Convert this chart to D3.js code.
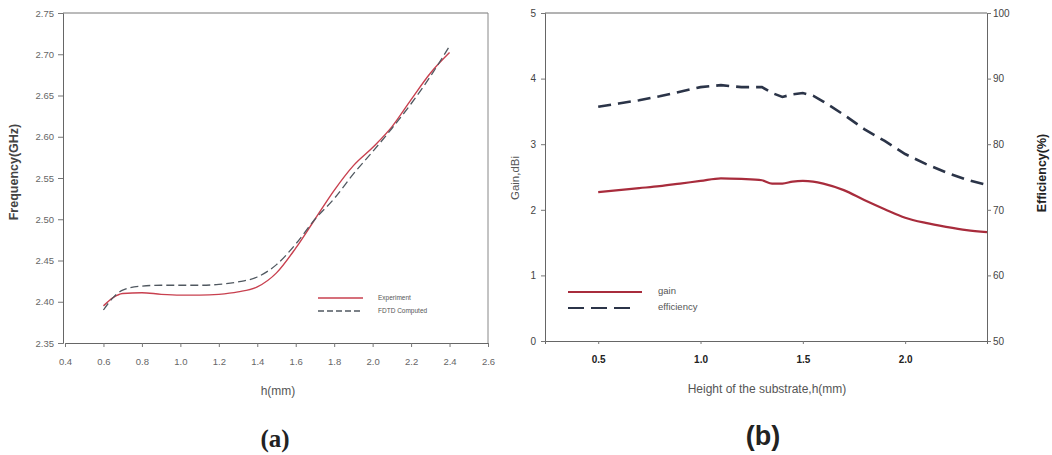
<!DOCTYPE html>
<meta charset="utf-8">
<title>resonant frequency, gain and efficiency vs substrate height</title>
<style>
body { margin: 0; background: #fff; }
text { font-family: Arial, "Liberation Sans", sans-serif; }
</style>
<body>
<script src="https://d3js.org/d3.v7.min.js"></script>
<script>
var width = 1052, height = 455;

// (a) resonant frequency vs substrate height
var hA = [0.6, 0.65, 0.7, 0.8, 0.9, 1.0, 1.1, 1.2, 1.3, 1.4, 1.5, 1.6, 1.7, 1.8, 1.9, 2.0, 2.1, 2.2, 2.3, 2.4];
var freqExperiment = [2.395, 2.405, 2.410, 2.411, 2.409, 2.408, 2.408, 2.409, 2.412, 2.418, 2.435, 2.465, 2.500, 2.535, 2.565, 2.587, 2.612, 2.645, 2.677, 2.702];
var freqFdtd = [2.390, 2.405, 2.414, 2.419, 2.420, 2.420, 2.420, 2.421, 2.424, 2.430, 2.445, 2.470, 2.500, 2.525, 2.555, 2.582, 2.610, 2.640, 2.673, 2.710];
var xTicksA = [0.4, 0.6, 0.8, 1.0, 1.2, 1.4, 1.6, 1.8, 2.0, 2.2, 2.4, 2.6];
var yTicksA = [2.35, 2.40, 2.45, 2.50, 2.55, 2.60, 2.65, 2.70, 2.75];
var legendA = ["Experiment", "FDTD Computed"];

// (b) gain and efficiency vs substrate height
var hB = [0.5, 0.6, 0.7, 0.8, 0.9, 1.0, 1.1, 1.2, 1.3, 1.35, 1.4, 1.45, 1.5, 1.55, 1.6, 1.7, 1.8, 1.9, 2.0, 2.1, 2.2, 2.3, 2.4];
var gain = [2.27, 2.30, 2.33, 2.36, 2.40, 2.44, 2.48, 2.47, 2.45, 2.40, 2.40, 2.43, 2.44, 2.43, 2.40, 2.30, 2.15, 2.01, 1.88, 1.80, 1.74, 1.69, 1.66];
var efficiency = [85.7, 86.2, 86.7, 87.3, 88.0, 88.7, 89.0, 88.7, 88.7, 87.8, 87.2, 87.6, 87.8, 87.4, 86.5, 84.5, 82.3, 80.5, 78.5, 77.0, 75.7, 74.6, 73.8];
var xTicksB = [0.5, 1.0, 1.5, 2.0];
var gainTicks = [0, 1, 2, 3, 4, 5];
var effTicks = [50, 60, 70, 80, 90, 100];
var legendB = ["gain", "efficiency"];

var svg = d3.select("body").append("svg")
    .attr("width", width)
    .attr("height", height);

// ---------- chart (a) ----------
var xA = d3.scaleLinear().domain([0.4, 2.6]).range([65, 488]);
var yA = d3.scaleLinear().domain([2.35, 2.75]).range([343, 13]);

var gA = svg.append("g");

gA.append("g")
    .attr("transform", "translate(63,0)")
    .call(d3.axisLeft(yA).tickValues(yTicksA).tickSize(5).tickPadding(4).tickFormat(d3.format(".2f")));

gA.append("g")
    .attr("transform", "translate(0,343)")
    .call(d3.axisBottom(xA).tickValues(xTicksA).tickSize(4).tickPadding(11).tickFormat(d3.format(".1f")));

gA.selectAll(".domain").attr("stroke", "#666");
gA.selectAll(".tick line").attr("stroke", "#777");
gA.selectAll(".tick text").style("font-size", "9.5px").attr("fill", "#666");

// top and right border
gA.append("line").attr("x1", 63).attr("x2", 488).attr("y1", 13).attr("y2", 13).attr("stroke", "#777");
gA.append("line").attr("x1", 488).attr("x2", 488).attr("y1", 13).attr("y2", 343).attr("stroke", "#888");

var lineA = d3.line()
    .x(function(d) { return xA(d[0]); })
    .y(function(d) { return yA(d[1]); })
    .curve(d3.curveMonotoneX);

gA.append("path")
    .datum(d3.zip(hA, freqExperiment))
    .attr("d", lineA)
    .attr("fill", "none")
    .attr("stroke", "#c8404f")
    .attr("stroke-width", 1.4);

gA.append("path")
    .datum(d3.zip(hA, freqFdtd))
    .attr("d", lineA)
    .attr("fill", "none")
    .attr("stroke", "#505860")
    .attr("stroke-width", 1.3)
    .attr("stroke-dasharray", "8,4");

// legend (a)
var legA = gA.append("g");
legA.selectAll("line")
    .data(legendA)
  .enter().append("line")
    .attr("x1", 318).attr("x2", 363)
    .attr("y1", function(d, i) { return 298 + i * 13; })
    .attr("y2", function(d, i) { return 298 + i * 13; })
    .attr("stroke", function(d, i) { return i ? "#505860" : "#c8404f"; })
    .attr("stroke-width", 1.3)
    .attr("stroke-dasharray", function(d, i) { return i ? "6,3" : null; });
legA.selectAll("text")
    .data(legendA)
  .enter().append("text")
    .attr("x", 378)
    .attr("y", function(d, i) { return 300 + i * 13; })
    .style("font-size", "6.5px")
    .attr("fill", "#555")
    .text(function(d) { return d; });

gA.append("text")
    .attr("transform", "translate(18,172) rotate(-90)")
    .attr("text-anchor", "middle")
    .style("font-size", "12.5px")
    .style("font-weight", "bold")
    .attr("fill", "#444")
    .text("Frequency(GHz)");

gA.append("text")
    .attr("x", 278).attr("y", 395)
    .attr("text-anchor", "middle")
    .style("font-size", "12px")
    .attr("fill", "#555")
    .text("h(mm)");

gA.append("text")
    .attr("x", 275).attr("y", 447)
    .attr("text-anchor", "middle")
    .style("font-family", "'Liberation Serif', 'DejaVu Serif', serif")
    .style("font-size", "25px")
    .style("font-weight", "bold")
    .attr("fill", "#222")
    .text("(a)");

// ---------- chart (b) ----------
var xB = d3.scaleLinear().domain([0.24, 2.40]).range([545, 987]);
var yGain = d3.scaleLinear().domain([0, 5]).range([341, 13]);
var yEff = d3.scaleLinear().domain([50, 100]).range([341, 13]);

var gB = svg.append("g");

gB.append("g")
    .attr("transform", "translate(545,0)")
    .call(d3.axisLeft(yGain).tickValues(gainTicks).tickSize(4).tickPadding(5).tickFormat(d3.format("d")));

gB.append("g")
    .attr("transform", "translate(987,0)")
    .call(d3.axisRight(yEff).tickValues(effTicks).tickSize(4).tickPadding(2).tickFormat(d3.format("d")));

var xAxisB = gB.append("g")
    .attr("transform", "translate(0,341)")
    .call(d3.axisBottom(xB).tickValues(xTicksB).tickSize(3).tickPadding(12).tickFormat(d3.format(".1f")));

gB.selectAll(".domain").attr("stroke", "#666");
gB.selectAll(".tick line").attr("stroke", "#777");
gB.selectAll(".tick text").style("font-size", "10px").attr("fill", "#444");
xAxisB.selectAll(".tick text").style("font-weight", "bold").attr("fill", "#222");

gB.append("line").attr("x1", 545).attr("x2", 987).attr("y1", 13).attr("y2", 13).attr("stroke", "#666");

var gainLine = d3.line()
    .x(function(d) { return xB(d[0]); })
    .y(function(d) { return yGain(d[1]); })
    .curve(d3.curveMonotoneX);

var effLine = d3.line()
    .x(function(d) { return xB(d[0]); })
    .y(function(d) { return yEff(d[1]); });

gB.append("path")
    .datum(d3.zip(hB, gain))
    .attr("d", gainLine)
    .attr("fill", "none")
    .attr("stroke", "#a82c3c")
    .attr("stroke-width", 2.2);

gB.append("path")
    .datum(d3.zip(hB, efficiency))
    .attr("d", effLine)
    .attr("fill", "none")
    .attr("stroke", "#2b3448")
    .attr("stroke-width", 2.6)
    .attr("stroke-dasharray", "13,7");

// legend (b)
var legB = gB.append("g");
legB.selectAll("line")
    .data(legendB)
  .enter().append("line")
    .attr("x1", 568)
    .attr("x2", function(d, i) { return i ? 637 : 642; })
    .attr("y1", function(d, i) { return 292 + i * 16; })
    .attr("y2", function(d, i) { return 292 + i * 16; })
    .attr("stroke", function(d, i) { return i ? "#2b3448" : "#a82c3c"; })
    .attr("stroke-width", 2.2)
    .attr("stroke-dasharray", function(d, i) { return i ? "16,7" : null; });
legB.selectAll("text")
    .data(legendB)
  .enter().append("text")
    .attr("x", 658)
    .attr("y", function(d, i) { return 294 + i * 16; })
    .style("font-size", "9.5px")
    .attr("fill", "#555")
    .text(function(d) { return d; });

gB.append("text")
    .attr("transform", "translate(519,178) rotate(-90)")
    .attr("text-anchor", "middle")
    .style("font-size", "11.5px")
    .attr("fill", "#555")
    .text("Gain,dBi");

gB.append("text")
    .attr("transform", "translate(1046,173) rotate(-90)")
    .attr("text-anchor", "middle")
    .style("font-size", "12.5px")
    .style("font-weight", "bold")
    .attr("fill", "#222")
    .text("Efficiency(%)");

gB.append("text")
    .attr("x", 767).attr("y", 393)
    .attr("text-anchor", "middle")
    .style("font-size", "12px")
    .attr("fill", "#555")
    .text("Height of the substrate,h(mm)");

gB.append("text")
    .attr("x", 763).attr("y", 445)
    .attr("text-anchor", "middle")
    .style("font-size", "27px")
    .style("font-weight", "bold")
    .attr("fill", "#222")
    .text("(b)");
</script>
